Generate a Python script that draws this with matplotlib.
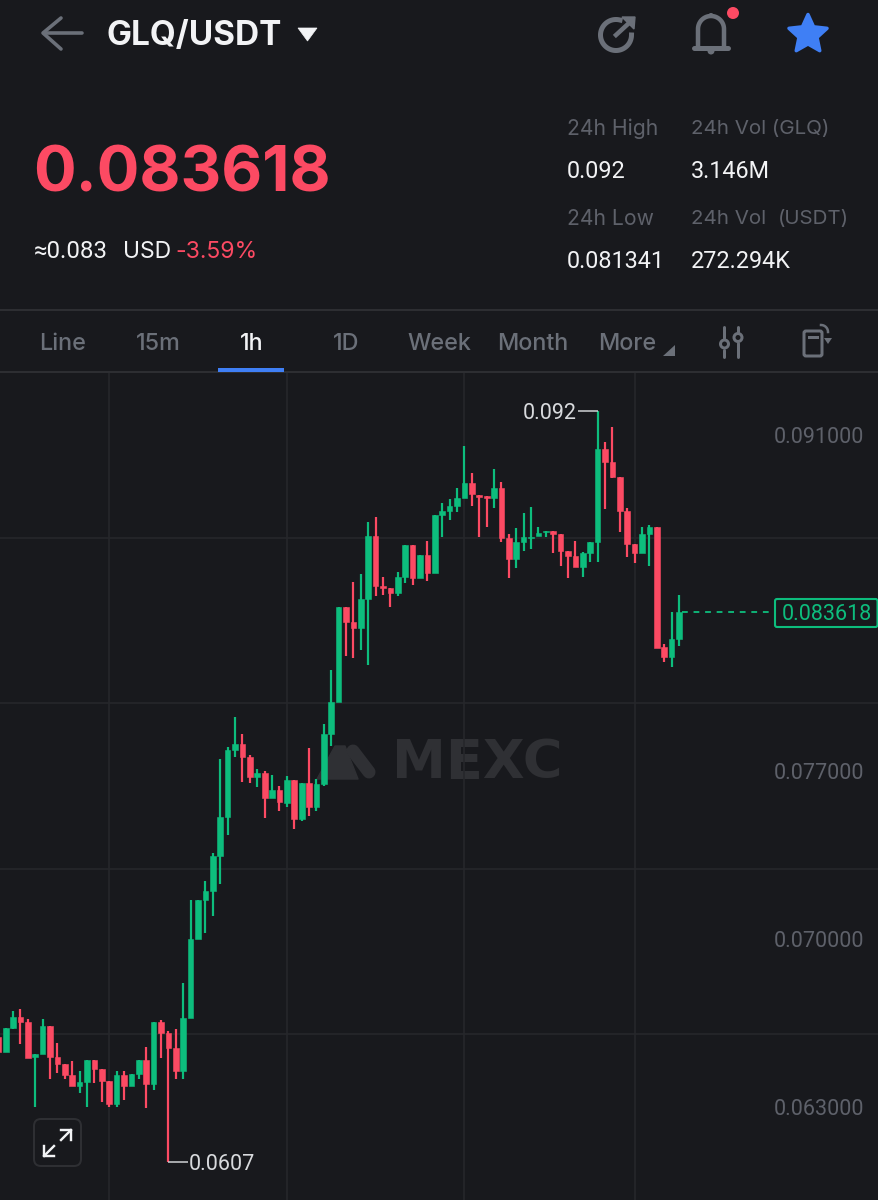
import numpy as np
import matplotlib
matplotlib.use("Agg")
import matplotlib.pyplot as plt
from matplotlib.patches import Polygon, Circle, FancyBboxPatch
from matplotlib.transforms import ScaledTranslation

# ---------- data ----------
opens = [0.06592,0.06529,0.06629,0.06675,0.06654,0.06508,0.06521,0.06637,0.06508,0.06479,
         0.06433,0.06387,0.06404,0.06496,0.06458,0.06408,0.06312,0.06433,0.06387,0.06437,
         0.06496,0.06396,0.06654,0.06608,0.06546,0.06450,0.06671,0.07000,0.07162,0.07200,
         0.07346,0.07508,0.07787,0.07812,0.07758,0.07675,0.07692,0.07588,0.07621,0.07567,
         0.07662,0.07500,0.07650,0.07550,0.07646,0.07854,0.07987,0.08383,0.08321,0.08296,
         0.08417,0.08679,0.08471,0.08462,0.08442,0.08508,0.08642,0.08504,0.08600,0.08525,
         0.08767,0.08783,0.08804,0.08837,0.08900,0.08850,0.08846,0.08837,0.08879,0.08671,
         0.08583,0.08654,0.08671,0.08679,0.08696,0.08700,0.08687,0.08617,0.08596,0.08550,
         0.08608,0.08654,0.09042,0.08988,0.08925,0.08783,0.08646,0.08608,0.08687,0.08717,
         0.08217,0.08175,0.08250]
highs = [0.06592,0.06629,0.06700,0.06708,0.06666,0.06521,0.06666,0.06637,0.06567,0.06479,
         0.06492,0.06450,0.06496,0.06496,0.06458,0.06408,0.06450,0.06450,0.06437,0.06496,
         0.06550,0.06654,0.06662,0.06617,0.06625,0.06817,0.07162,0.07162,0.07242,0.07358,
         0.07750,0.07800,0.07925,0.07854,0.07767,0.07708,0.07700,0.07683,0.07637,0.07679,
         0.07662,0.07650,0.07796,0.07667,0.07896,0.08121,0.08383,0.08383,0.08487,0.08521,
         0.08737,0.08758,0.08508,0.08462,0.08529,0.08642,0.08642,0.08600,0.08658,0.08767,
         0.08817,0.08833,0.08879,0.09054,0.08942,0.08850,0.08846,0.08958,0.08904,0.08687,
         0.08712,0.08775,0.08800,0.08717,0.08700,0.08700,0.08687,0.08617,0.08658,0.08612,
         0.08654,0.09200,0.09071,0.09133,0.08925,0.08796,0.08646,0.08717,0.08725,0.08717,
         0.08229,0.08362,0.08433]
lows = [0.06529,0.06529,0.06625,0.06562,0.06504,0.06300,0.06521,0.06417,0.06442,0.06417,
        0.06387,0.06358,0.06300,0.06400,0.06321,0.06300,0.06300,0.06329,0.06387,0.06417,
        0.06296,0.06371,0.06504,0.06070,0.06417,0.06417,0.06671,0.07000,0.07025,0.07096,
        0.07229,0.07433,0.07758,0.07654,0.07650,0.07633,0.07504,0.07588,0.07533,0.07550,
        0.07458,0.07492,0.07512,0.07533,0.07637,0.07804,0.07987,0.08179,0.08171,0.08204,
        0.08142,0.08429,0.08433,0.08383,0.08429,0.08483,0.08475,0.08504,0.08492,0.08525,
        0.08675,0.08746,0.08779,0.08837,0.08804,0.08675,0.08717,0.08796,0.08654,0.08504,
        0.08546,0.08617,0.08625,0.08679,0.08675,0.08608,0.08554,0.08504,0.08550,0.08508,
        0.08571,0.08571,0.08792,0.08921,0.08696,0.08592,0.08567,0.08608,0.08554,0.08212,
        0.08154,0.08133,0.08221]
closes = [0.06529,0.06629,0.06675,0.06654,0.06504,0.06521,0.06637,0.06508,0.06479,0.06433,
          0.06387,0.06404,0.06496,0.06458,0.06408,0.06312,0.06433,0.06387,0.06437,0.06496,
          0.06396,0.06654,0.06608,0.06546,0.06450,0.06671,0.07000,0.07162,0.07200,0.07346,
          0.07508,0.07787,0.07812,0.07758,0.07675,0.07692,0.07588,0.07621,0.07571,0.07662,
          0.07500,0.07650,0.07550,0.07646,0.07854,0.07987,0.08383,0.08321,0.08296,0.08417,
          0.08679,0.08471,0.08462,0.08442,0.08508,0.08642,0.08504,0.08600,0.08525,0.08767,
          0.08783,0.08804,0.08837,0.08900,0.08854,0.08842,0.08837,0.08879,0.08671,0.08583,
          0.08654,0.08675,0.08675,0.08692,0.08700,0.08687,0.08617,0.08596,0.08550,0.08608,
          0.08654,0.09042,0.08988,0.08925,0.08783,0.08646,0.08608,0.08687,0.08717,0.08212,
          0.08175,0.08250,0.083618]
price_ticks = [0.091, 0.077, 0.070, 0.063]
price_tick_labels = ["0.091000", "0.077000", "0.070000", "0.063000"]
grid_prices = [0.08671, 0.07983, 0.07292, 0.06604]
grid_candles = [15, 39, 63, 86]
last_price = 0.083618
high_label, low_label = "0.092", "0.0607"
tabs = ["Line", "15m", "1h", "1D", "Week", "Month", "More"]

# ---------- style ----------
BG = "#18191d"; GREEN = "#0dbd7d"; RED = "#fc4a63"; GRID = "#26272b"; RULE = "#2e2f33"
GRAY = "#6b7079"; LABEL = "#5e616a"; WHITE = "#f2f3f5"; BLUE = "#3f7ff5"; MARK = "#2f3034"
NUM = ["Roboto", "DejaVu Sans"]
plt.rcParams["font.family"] = ["Inter", "DejaVu Sans"]
W, H = 879, 1200
PX = 0.72
fig = plt.figure(figsize=(W / 100, H / 100), dpi=100, facecolor=BG)
nudge = ScaledTranslation(0, -2 / 100, fig.dpi_scale_trans)

# backdrop layer (watermark) in pixel coordinates
back = fig.add_axes([0, 0, 1, 1], zorder=0); back.set_xlim(0, W); back.set_ylim(H, 0); back.axis("off")
# chart layer
top_px = 372
ax = fig.add_axes([0, 0, 1, (H - top_px) / H], zorder=1)
ax.patch.set_alpha(0)
STEP, X0 = 7.4, -1.7
ax.set_xlim((0 - X0) / STEP, (W - X0) / STEP)
ax.set_ylim(0.091 - (H - 435) / 24000, 0.091 + (435 - top_px) / 24000)
for s in ax.spines.values():
    s.set_visible(False)
ax.set_xticks([]); ax.set_yticks([])
# UI layer
ui = fig.add_axes([0, 0, 1, 1], zorder=2); ui.set_xlim(0, W); ui.set_ylim(H, 0); ui.axis("off"); ui.patch.set_alpha(0)

# ---------- chart ----------
ax.hlines(grid_prices, *ax.get_xlim(), color=GRID, lw=1.2, zorder=1)
ax.vlines(grid_candles, *ax.get_ylim(), color=GRID, lw=1.2, zorder=1)
o, h, l, c = map(np.array, (opens, highs, lows, closes))
idx = np.arange(len(o))
up = c >= o
cols = np.where(up, GREEN, RED)
ax.vlines(idx, l, h, colors=cols, lw=2.2 * PX, zorder=3)
ax.bar(idx, np.abs(c - o), bottom=np.minimum(o, c), width=5.6 / STEP, color=cols,
       edgecolor=cols, linewidth=0.4, zorder=4)
ax.hlines(last_price, idx[-1] + 0.4, (775 - X0) / STEP, colors=GREEN, lw=1.3,
          linestyles=(0, (3.2, 3.2)), zorder=3)
yt = ax.get_yaxis_transform() + nudge
for p, lab in zip(price_ticks, price_tick_labels):
    ax.text(864 / W, p, lab, transform=yt, ha="right", va="center", color=LABEL, fontsize=15.5,
            family=NUM, zorder=5)
ax.text(826.5 / W, last_price, f"{last_price:.6f}", transform=yt, ha="center", va="center",
        color=GREEN, fontsize=15.5, family=NUM, zorder=6)
ui.add_patch(FancyBboxPatch((775, 599), 102.5, 28, boxstyle="round,pad=0,rounding_size=2",
                            fc="none", ec=GREEN, lw=1.5))
# extreme annotations
i_hi, i_lo = int(np.argmax(h)), int(np.argmin(l))
dt = ax.transData + nudge
ax.hlines(h[i_hi], i_hi - 2.6, i_hi, colors="#cfd1d4", lw=1.1, zorder=5)
ax.text(i_hi - 2.85, h[i_hi], high_label, transform=dt, ha="right", va="center", color="#d8dadd",
        fontsize=15.5, family=NUM, zorder=5)
ax.hlines(l[i_lo], i_lo, i_lo + 2.6, colors="#cfd1d4", lw=1.1, zorder=5)
ax.text(i_lo + 2.75, l[i_lo], low_label, transform=dt, ha="left", va="center", color="#d8dadd",
        fontsize=15.5, family=NUM, zorder=5)

# ---------- watermark ----------
back.add_patch(Polygon([(317, 779), (335, 746), (345, 746), (358, 779)], fc=MARK, ec=MARK, lw=1, joinstyle="round"))
back.plot([353, 369], [751, 772], color=MARK, lw=13 * PX, solid_capstyle="round")
back.text(477, 763, "MEXC", ha="center", va="center", color=MARK, fontsize=39,
          family="DejaVu Sans", weight="bold")

# ---------- header ----------
def T(x, y, s, size, color, weight="normal", ha="left", family=None):
    ui.text(x, y + 2, s, fontsize=size, color=color, weight=weight, ha=ha, va="center", family=family)

ui.plot([82, 44], [33, 33], color=GRAY, lw=3.6 * PX, solid_capstyle="round")
ui.plot([61, 43, 61], [18, 33, 49], color=GRAY, lw=3.6 * PX, solid_capstyle="round", solid_joinstyle="round")
T(107, 34, "GLQ/USDT", 24, WHITE, "bold")
ui.add_patch(Polygon([(298, 28), (317, 28), (307.5, 41)], fc=WHITE, ec=WHITE, lw=0.5))
T(33, 173, "0.083618", 45.5, RED, "bold")
T(34, 250, "≈0.083", 17.3, WHITE, family=NUM)
T(123, 250, "USD", 16.5, WHITE)
T(175, 250, "-3.59%", 16.6, RED)

# share icon
t = np.radians(np.linspace(0, 285, 80))
ui.plot(616 + 15.5 * np.cos(t), 35 + 15.5 * np.sin(t), color=GRAY, lw=5 * PX)
ui.plot([616, 628], [35, 24], color=GRAY, lw=4.5 * PX)
ui.add_patch(Polygon([(622, 17), (635, 17), (634, 29)], fc=GRAY, ec=GRAY, lw=1))
# bell
t = np.linspace(np.pi, 2 * np.pi, 40)
bx = np.r_[698, 711 + 13 * np.cos(t), 724]
by = np.r_[46, 29 + 13 * np.sin(t), 46]
ui.plot(bx, by, color=GRAY, lw=4.5 * PX)
ui.plot([694, 728], [48, 48], color=GRAY, lw=5 * PX, solid_capstyle="round")
ui.add_patch(Circle((711, 51), 3.5, fc=GRAY, ec="none"))
ui.add_patch(Circle((711, 15.5), 2.5, fc=GRAY, ec="none"))
ui.add_patch(Circle((733, 13), 6, fc=RED, ec="none"))
# star
ang = np.radians(-90 + 36 * np.arange(10))
rad = np.where(np.arange(10) % 2 == 0, 20, 9.5)
ui.add_patch(Polygon(np.c_[808 + rad * np.cos(ang), 34.5 + rad * np.sin(ang)], fc=BLUE, ec=BLUE, lw=2.5, joinstyle="round"))

# stats
T(567, 127, "24h High", 15.2, LABEL)
T(691, 127, "24h Vol (GLQ)", 14.8, LABEL)
T(567, 169, "0.092", 16.8, WHITE, family=NUM)
T(691, 169, "3.146M", 16.8, WHITE, family=NUM)
T(567, 217, "24h Low", 15.2, LABEL)
T(691, 217, "24h Vol", 14.8, LABEL)
T(778, 217, "(USDT)", 14.8, LABEL)
T(567, 259, "0.081341", 16.8, WHITE, family=NUM)
T(691, 259, "272.294K", 16.8, WHITE, family=NUM)

# tab bar
ui.plot([0, W], [309.5, 309.5], color=RULE, lw=1.4)
ui.plot([0, W], [372, 372], color=RULE, lw=1.4)
tab_x = [63, 158, 252, 346, 439, 533, 627.5]
for x, s in zip(tab_x, tabs):
    T(x, 342, s, 16.8, WHITE if s == "1h" else GRAY, "medium", "center")
ui.plot([218, 284], [369.5, 369.5], color=BLUE, lw=4 * PX, solid_capstyle="butt")
ui.add_patch(Polygon([(663, 356), (675, 356), (675, 345)], fc=GRAY, ec="none"))
# sliders icon
for x, segs, cy in [(724.5, [(327, 338), (350, 357)], 344), (738, [(327, 332), (343, 357)], 337.5)]:
    for a, b in segs:
        ui.plot([x, x], [a, b], color=GRAY, lw=3 * PX, solid_capstyle="round")
    ui.add_patch(Circle((x, cy), 4, fc="none", ec=GRAY, lw=3 * PX))
# phone icon
ui.add_patch(FancyBboxPatch((804, 331), 18, 25, boxstyle="round,pad=0,rounding_size=2", fc=BG, ec=GRAY, lw=3 * PX))
ui.plot([809, 817], [337, 337], color=GRAY, lw=3 * PX)
t = np.radians(np.linspace(-90, 0, 20))
ui.plot(821 + 7 * np.cos(t), 332 + 7 * np.sin(t), color=GRAY, lw=2.5 * PX)
ui.add_patch(Polygon([(824, 338), (832, 338), (828, 344)], fc=GRAY, ec="none"))

# expand button
ui.add_patch(FancyBboxPatch((34, 1119), 47, 47, boxstyle="round,pad=0,rounding_size=7", fc=BG, ec=RULE, lw=2 * PX))
for (tx, ty, ax_, ay_, dx, dy) in [(44, 1156, 54, 1146, 1, -1), (71, 1130, 61, 1140, -1, 1)]:
    ui.plot([tx, ax_], [ty, ay_], color=WHITE, lw=2.4 * PX)
    ui.plot([tx, tx, tx + dx * 10], [ty + dy * 10, ty, ty], color=WHITE, lw=2.4 * PX)

fig.savefig("out.png", dpi=100, facecolor=BG)
